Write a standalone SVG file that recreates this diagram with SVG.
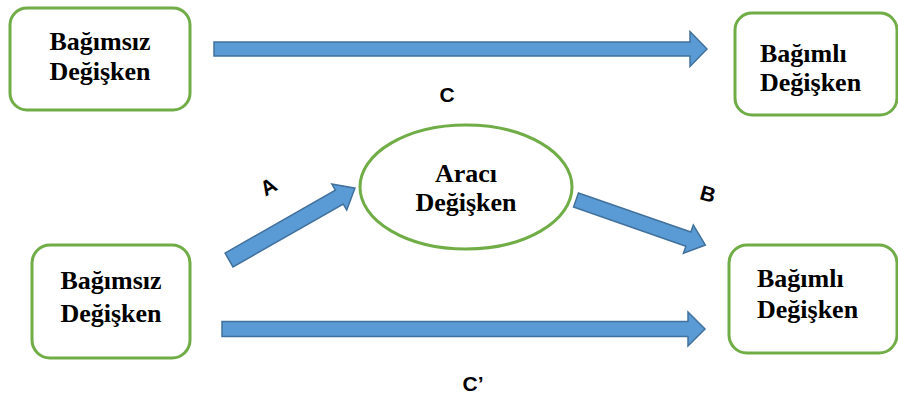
<svg xmlns="http://www.w3.org/2000/svg" width="898" height="398" viewBox="0 0 898 398">
<style>
.box{fill:#fff;stroke:#70AD47;stroke-width:3}
.t{font-family:"Liberation Serif",serif;font-weight:bold;font-size:26px;fill:#000}
.lbl{font-family:"Liberation Sans",sans-serif;font-weight:bold;font-size:21px;fill:#000}
.arr{fill:#5B9BD5;stroke:#41719C;stroke-width:1.5;stroke-linejoin:miter}
</style>
<rect width="898" height="398" fill="#fff"/>
<g id="connectors">
  <polygon class="arr" transform="translate(214,49)" points="0,-7 476,-7 476,-17.5 493,0 476,17.5 476,7 0,7"/>
  <polygon class="arr" transform="translate(222,329)" points="0,-7.5 466,-7.5 466,-17 483,0 466,17 466,7.5 0,7.5"/>
  <polygon class="arr" transform="translate(229,260) rotate(-29.7)" points="0,-8 127,-8 127,-15 145,0 127,15 127,8 0,8"/>
  <polygon class="arr" transform="translate(576,200) rotate(19.2)" points="0,-7.5 119,-7.5 119,-15 137,0 119,15 119,7.5 0,7.5"/>
  <text class="lbl" x="447" y="102" text-anchor="middle">C</text>
  <text class="lbl" x="473" y="391" text-anchor="middle">C’</text>
  <text class="lbl" transform="translate(272,193) rotate(-30)" text-anchor="middle">A</text>
  <text class="lbl" transform="translate(706,201) rotate(15)" text-anchor="middle">B</text>
</g>
<g id="bagimsiz1">
  <rect class="box" x="10" y="8" width="180" height="102" rx="17"/>
  <text class="t" x="100" y="50" text-anchor="middle">Bağımsız</text>
  <text class="t" x="100" y="80" text-anchor="middle">Değişken</text>
</g>
<g id="bagimli1">
  <rect class="box" x="735" y="13" width="162" height="102" rx="17"/>
  <text class="t" x="760" y="62">Bağımlı</text>
  <text class="t" x="760" y="91">Değişken</text>
</g>
<g id="araci">
  <ellipse class="box" cx="466" cy="187" rx="106" ry="62"/>
  <text class="t" x="466" y="182" text-anchor="middle">Aracı</text>
  <text class="t" x="466" y="211" text-anchor="middle">Değişken</text>
</g>
<g id="bagimsiz2">
  <rect class="box" x="32" y="245" width="158" height="113" rx="18"/>
  <text class="t" x="111" y="289" text-anchor="middle">Bağımsız</text>
  <text class="t" x="111" y="322" text-anchor="middle">Değişken</text>
</g>
<g id="bagimli2">
  <rect class="box" x="729" y="245" width="168" height="108" rx="18"/>
  <text class="t" x="757" y="287">Bağımlı</text>
  <text class="t" x="757" y="318">Değişken</text>
</g>
</svg>
